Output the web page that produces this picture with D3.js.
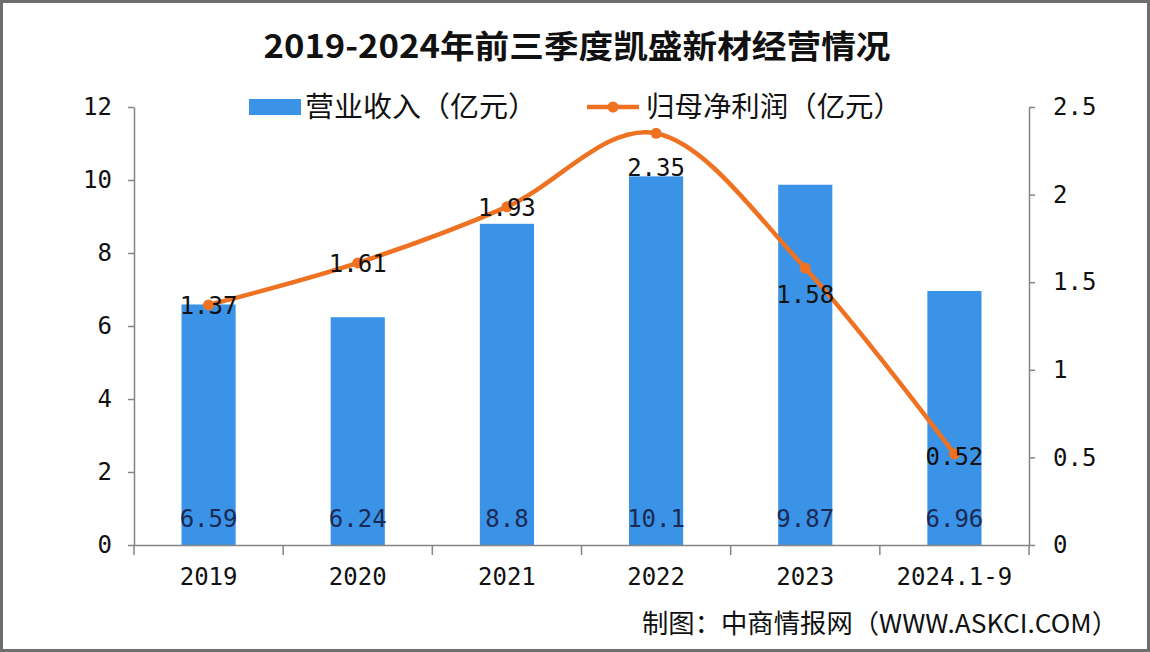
<!DOCTYPE html>
<html><head><meta charset="utf-8">
<script src="https://cdn.jsdelivr.net/npm/d3@7"></script>
<style>
html,body{margin:0;padding:0;background:#fff;}
svg{display:block;}
</style></head>
<body>
<svg id="chart" width="1150" height="652"></svg>
<script>
const categories = ["2019","2020","2021","2022","2023","2024.1-9"];
const revenue = [6.59, 6.24, 8.8, 10.1, 9.87, 6.96];
const revenueLabels = ["6.59","6.24","8.8","10.1","9.87","6.96"];
const profit = [1.37, 1.61, 1.93, 2.35, 1.58, 0.52];
const profitLabels = ["1.37","1.61","1.93","2.35","1.58","0.52"];
const leftTicks = [0,2,4,6,8,10,12];
const rightTicks = [0,0.5,1,1.5,2,2.5];
const profitLabelDy = [0,0,0,34,26,2];

(function(){
const svg = d3.select("#chart");
const W = 1150, H = 652;
const pL = 134, pR = 1029, pT = 107, pB = 545;
const numFont = "'DejaVu Sans Mono', 'Liberation Mono', monospace";
const cjkFont = "'Noto Sans CJK SC', sans-serif";

svg.append("rect").attr("x",1.5).attr("y",1.5).attr("width",W-3).attr("height",H-3)
  .attr("fill","#fff").attr("stroke","#6e6e6e").attr("stroke-width",3);

// title
svg.append("text").attr("x",577).attr("y",58).attr("text-anchor","middle")
  .attr("font-family",cjkFont).attr("font-weight","bold").attr("font-size",32)
  .attr("textLength",627).attr("lengthAdjust","spacingAndGlyphs")
  .attr("fill","#111").text("2019-2024年前三季度凯盛新材经营情况");

const x = d3.scaleBand().domain(categories).range([pL,pR]).padding(0);
const yL = d3.scaleLinear().domain([0,12]).range([pB,pT]);
const yR = d3.scaleLinear().domain([0,2.5]).range([pB,pT]);
const barW = x.bandwidth()*0.363;

// bars
svg.append("g").selectAll("rect").data(categories).join("rect")
  .attr("x",d=>x(d)+x.bandwidth()/2-barW/2)
  .attr("y",(d,i)=>yL(revenue[i]))
  .attr("width",barW)
  .attr("height",(d,i)=>yL(0)-yL(revenue[i]))
  .attr("fill","#3a93e6");

// left axis
const gL = svg.append("g").attr("transform",`translate(${pL},0)`)
  .call(d3.axisLeft(yL).tickValues(leftTicks).tickSize(6).tickPadding(16).tickSizeOuter(0).tickFormat(d3.format("d")));
// right axis
const gR = svg.append("g").attr("transform",`translate(${pR},0)`)
  .call(d3.axisRight(yR).tickValues(rightTicks).tickSize(6).tickPadding(18).tickSizeOuter(0).tickFormat(d=>String(d)));
// bottom axis
const gB = svg.append("g").attr("transform",`translate(0,${pB})`)
  .call(d3.axisBottom(x).tickSize(0).tickPadding(23).tickSizeOuter(0));
[gL,gR,gB].forEach(g=>{
  g.select(".domain").attr("stroke","#858585").attr("stroke-width",1.5);
  g.selectAll(".tick line").attr("stroke","#858585").attr("stroke-width",1.5);
  g.selectAll("text").attr("font-family",numFont).attr("font-size",24).attr("fill","#111");
});
// category boundary ticks
const bounds = categories.map(c=>x(c)).concat([pR]);
svg.append("g").selectAll("line").data(bounds).join("line")
  .attr("x1",d=>d).attr("x2",d=>d).attr("y1",pB).attr("y2",pB+10)
  .attr("stroke","#858585").attr("stroke-width",1.5);

// bar labels
svg.append("g").selectAll("text").data(categories).join("text")
  .attr("x",d=>x(d)+x.bandwidth()/2).attr("y",yL(0)-18)
  .attr("text-anchor","middle").attr("font-family",numFont).attr("font-size",24)
  .attr("fill","#1b2a55").text((d,i)=>revenueLabels[i]);

// profit line
const line = d3.line().x((d,i)=>x(categories[i])+x.bandwidth()/2).y(d=>yR(d))
  .curve(d3.curveCatmullRom.alpha(0));
svg.append("path").datum(profit).attr("d",line).attr("fill","none")
  .attr("stroke","#ee7221").attr("stroke-width",4.5).attr("stroke-linejoin","round");
svg.append("g").selectAll("circle").data(profit).join("circle")
  .attr("cx",(d,i)=>x(categories[i])+x.bandwidth()/2).attr("cy",d=>yR(d))
  .attr("r",5.5).attr("fill","#ee7221");

// profit labels
svg.append("g").selectAll("text").data(profit).join("text")
  .attr("x",(d,i)=>x(categories[i])+x.bandwidth()/2)
  .attr("y",(d,i)=>yR(d)+profitLabelDy[i]+9)
  .attr("text-anchor","middle").attr("font-family",numFont).attr("font-size",24)
  .attr("fill","#111").text((d,i)=>profitLabels[i]);

// legend
const lg = svg.append("g");
lg.append("rect").attr("x",249).attr("y",99).attr("width",52).attr("height",16).attr("fill","#3a93e6");
lg.append("text").attr("x",305).attr("y",117).attr("font-family",cjkFont).attr("font-size",28)
  .attr("textLength",232).attr("lengthAdjust","spacingAndGlyphs")
  .attr("fill","#111").text("营业收入（亿元）");
lg.append("line").attr("x1",587).attr("x2",639).attr("y1",107).attr("y2",107)
  .attr("stroke","#ee7221").attr("stroke-width",4.5);
lg.append("circle").attr("cx",613).attr("cy",107).attr("r",5.5).attr("fill","#ee7221");
lg.append("text").attr("x",646).attr("y",117).attr("font-family",cjkFont).attr("font-size",28)
  .attr("textLength",256).attr("lengthAdjust","spacingAndGlyphs")
  .attr("fill","#111").text("归母净利润（亿元）");

// source
svg.append("text").attr("x",642).attr("y",633).attr("font-family",cjkFont).attr("font-size",26)
  .attr("textLength",476).attr("lengthAdjust","spacingAndGlyphs")
  .attr("fill","#111").text("制图：中商情报网（WWW.ASKCI.COM）");
})();
</script>
</body></html>
